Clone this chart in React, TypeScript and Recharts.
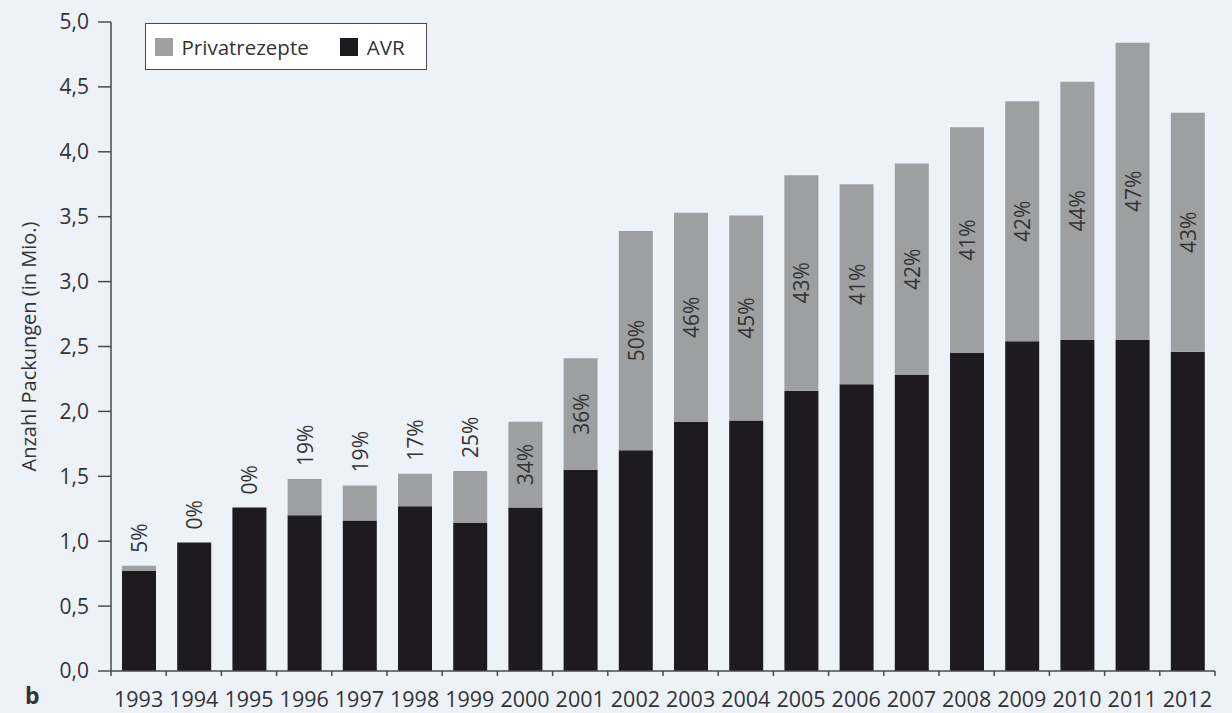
import React from 'react';
import { BarChart, Bar, XAxis, YAxis, Legend, LabelList } from 'recharts';

// values (Mio. Packungen)
const years = ['1993', '1994', '1995', '1996', '1997', '1998', '1999', '2000', '2001', '2002',
  '2003', '2004', '2005', '2006', '2007', '2008', '2009', '2010', '2011', '2012'];
const avr = [0.77, 0.99, 1.26, 1.20, 1.16, 1.27, 1.14, 1.26, 1.55, 1.70,
  1.92, 1.93, 2.16, 2.21, 2.28, 2.45, 2.54, 2.55, 2.55, 2.46];
const privat = [0.04, 0, 0, 0.28, 0.27, 0.25, 0.40, 0.66, 0.86, 1.69,
  1.61, 1.58, 1.66, 1.54, 1.63, 1.74, 1.85, 1.99, 2.29, 1.84];
const shareLabels = ['5%', '0%', '0%', '19%', '19%', '17%', '25%', '34%', '36%', '50%',
  '46%', '45%', '43%', '41%', '42%', '41%', '42%', '44%', '47%', '43%'];
const yTicks = [0, 0.5, 1, 1.5, 2, 2.5, 3, 3.5, 4, 4.5, 5];

const data = years.map((year, i) => ({
  year,
  avr: avr[i],
  privat: privat[i],
  pct: shareLabels[i],
}));

const W = 1232;
const H = 713;
const MARGIN = { top: 22, right: 17, left: 0, bottom: 0 };
const Y_AXIS_W = 111;
const STEP = (W - MARGIN.left - MARGIN.right - Y_AXIS_W) / years.length;

const FONT = '"Open Sans", sans-serif';
const TEXT = '#333333';
const AXIS = '#4a4a4a';
const GREY = '#9e9fa1';
const BLACK = '#1d1b1f';
const BG = '#edf2f9';

const XTick = (props: any) => {
  const { x, y, index } = props;
  const isLast = index === years.length - 1;
  return (
    <g>
      <line x1={x - STEP / 2} y1={y} x2={x - STEP / 2} y2={y + 5} stroke={AXIS} strokeWidth={1.5} />
      {isLast && <line x1={x + STEP / 2} y1={y} x2={x + STEP / 2} y2={y + 5} stroke={AXIS} strokeWidth={1.5} />}
      <text x={x} y={y + 36} textAnchor="middle" fill={TEXT} fontSize={21.5} fontFamily={FONT}>
        {props.payload.value}
      </text>
    </g>
  );
};

// sits on the AVR bar so that it also shows when the Privatrezepte part is 0;
// the grey part's height comes from the same px-per-unit as the AVR bar
const ShareLabel = (props: any) => {
  const { x, y, width, height, value, index } = props;
  const cx = Number(x) + Number(width) / 2;
  const pxPerUnit = Number(height) / avr[index];
  const h = privat[index] * pxPerUnit;
  const top = Number(y) - h;
  if (h >= 60) {
    const cy = top + h / 2;
    return (
      <text x={cx} y={cy} transform={`rotate(-90 ${cx} ${cy})`} textAnchor="middle"
        dominantBaseline="central" fill={TEXT} fontSize={21} fontFamily={FONT}>
        {value}
      </text>
    );
  }
  const by = top - 13;
  return (
    <text x={cx} y={by} transform={`rotate(-90 ${cx} ${by})`} textAnchor="start"
      dominantBaseline="central" fill={TEXT} fontSize={21} fontFamily={FONT}>
      {value}
    </text>
  );
};

const LegendBox = () => {
  const items = [
    { name: 'Privatrezepte', color: GREY },
    { name: 'AVR', color: BLACK },
  ];
  return (
    <div style={{
      width: 282, height: 47, boxSizing: 'border-box', border: `1.5px solid ${AXIS}`,
      background: '#ffffff', display: 'flex', alignItems: 'center', paddingLeft: 8.5,
      fontFamily: FONT, fontSize: 20.5, color: TEXT,
    }}>
      {items.map((it, i) => (
        <div key={it.name} style={{ display: 'flex', alignItems: 'center', marginLeft: i === 0 ? 0 : 31 }}>
          <span style={{ width: 18, height: 18, background: it.color, display: 'inline-block', marginRight: 9 }} />
          <span>{it.name}</span>
        </div>
      ))}
    </div>
  );
};

const YLabel = (props: any) => {
  const vb = props.viewBox;
  const cx = 28;
  const cy = vb.y + vb.height / 2;
  return (
    <text x={cx} y={cy} transform={`rotate(-90 ${cx} ${cy})`} textAnchor="middle"
      dominantBaseline="central" fill={TEXT} fontSize={20} fontFamily={FONT}>
      Anzahl Packungen (in Mio.)
    </text>
  );
};

export default function App() {
  return (
    <div style={{ position: 'fixed', left: 0, top: 0, width: W, height: H, background: BG }}>
      <BarChart width={W} height={H} data={data} margin={MARGIN} barSize={34}>
        <XAxis
          dataKey="year"
          height={42}
          tickLine={false}
          tickSize={0}
          tickMargin={0}
          interval={0}
          axisLine={{ stroke: AXIS, strokeWidth: 1.5 }}
          tick={<XTick />}
        />
        <YAxis
          width={Y_AXIS_W}
          domain={[0, 5]}
          ticks={yTicks}
          interval={0}
          tickSize={13}
          tickMargin={9}
          axisLine={{ stroke: AXIS, strokeWidth: 1.5 }}
          tickLine={{ stroke: AXIS, strokeWidth: 1.5 }}
          tick={{ fill: TEXT, fontSize: 21, fontFamily: FONT }}
          tickFormatter={(v: number) => v.toFixed(1).replace('.', ',')}
          label={{ content: <YLabel /> }}
        />
        <Legend
          layout="horizontal"
          verticalAlign="middle"
          align="center"
          content={<LegendBox />}
          wrapperStyle={{ top: 23, left: 145, width: 'auto', height: 'auto' }}
        />
        <Bar dataKey="avr" name="AVR" stackId="a" fill={BLACK} isAnimationActive={false}>
          <LabelList dataKey="pct" content={<ShareLabel />} />
        </Bar>
        <Bar dataKey="privat" name="Privatrezepte" stackId="a" fill={GREY} isAnimationActive={false} />
      </BarChart>
      <span style={{
        position: 'absolute', left: 25, top: 679, fontFamily: FONT, fontWeight: 700,
        fontSize: 23, color: TEXT,
      }}>b</span>
    </div>
  );
}
